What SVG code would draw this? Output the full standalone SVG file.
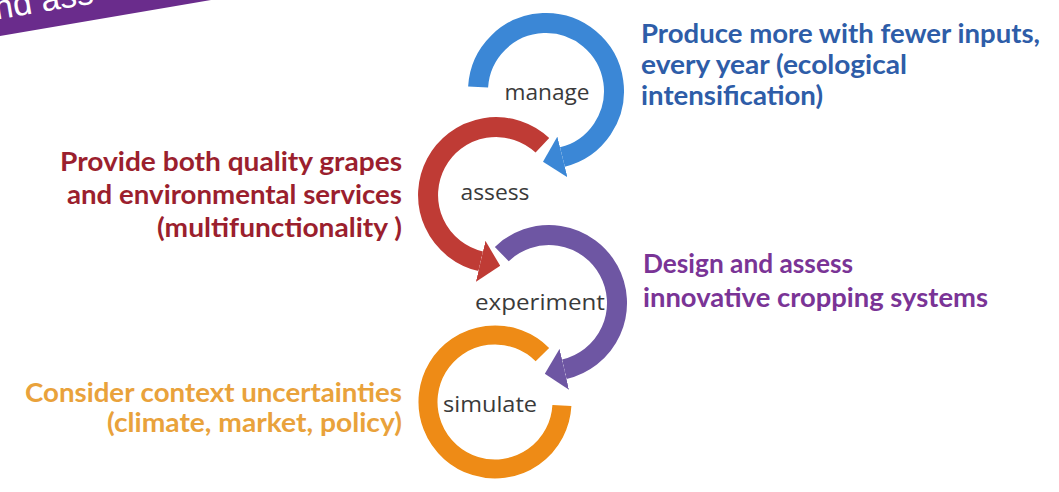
<svg xmlns="http://www.w3.org/2000/svg" width="1059" height="492" viewBox="0 0 1059 492">
  <style>
    .ring { fill: none; stroke-width: 20; stroke-linecap: butt; }
    .step { font-family: "Open Sans", "DejaVu Sans", sans-serif; font-size: 22px; fill: #3a3a3a; text-anchor: middle; }
    .goal { font-family: Lato, "Open Sans", sans-serif; font-weight: 700; font-size: 27px; }
    .blue { fill: #2E5DA8; }
    .red { fill: #9B1F2E; }
    .purple { fill: #7A3496; }
    .orange { fill: #E9A23B; }
    .end { text-anchor: end; }
  </style>
  <defs>
    <filter id="soft" x="-10%" y="-10%" width="120%" height="120%">
      <feGaussianBlur stdDeviation="0.7"/>
    </filter>
    <marker id="ah-blue" markerUnits="strokeWidth" markerWidth="1" markerHeight="2.1" viewBox="0 -1.05 1 2.1" refX="0" refY="0" orient="auto">
      <path d="M0,-1.05 L1,0 L0,1.05 Z" fill="#3A87D6"/>
    </marker>
    <marker id="ah-red" markerUnits="strokeWidth" markerWidth="1" markerHeight="2.1" viewBox="0 -1.05 1 2.1" refX="0" refY="0" orient="auto">
      <path d="M0,-1.05 L1,0 L0,1.05 Z" fill="#BF3A35"/>
    </marker>
    <marker id="ah-purple" markerUnits="strokeWidth" markerWidth="1" markerHeight="2.1" viewBox="0 -1.05 1 2.1" refX="0" refY="0" orient="auto">
      <path d="M0,-1.05 L1,0 L0,1.05 Z" fill="#6E56A3"/>
    </marker>
  </defs>

  <rect width="1059" height="492" fill="#ffffff"/>

  <!-- title banner fragment -->
  <g id="banner">
    <polygon points="0,0 211,0 0,36" fill="#6A2C8C"/>
    <text x="-4" y="19" transform="rotate(-9.5 0 19)" font-family="'Liberation Sans', sans-serif" font-size="34" fill="#ffffff">nd ass</text>
  </g>

  <!-- cycle arrows -->
  <g id="connectors" filter="url(#soft)">
    <path id="arc-manage" class="ring" stroke="#3A87D6" marker-end="url(#ah-blue)" d="M478.1,87 A68,68 0 1 1 562.4,157"/>
    <path id="arc-assess" class="ring" stroke="#BF3A35" marker-end="url(#ah-red)" d="M542.4,145.3 A68,68 0 1 0 480.7,261.3"/>
    <path id="arc-experiment" class="ring" stroke="#6E56A3" marker-end="url(#ah-purple)" d="M501.8,254.1 A68,68 0 1 1 564.3,369.3"/>
    <path id="arc-simulate" class="ring" stroke="#EE8B12" style="stroke-width:19" d="M542.4,354.6 A67,67 0 1 0 561.9,405.5"/>
  </g>

  <g id="node-manage">
    <text class="step" x="547" y="100" textLength="85" lengthAdjust="spacingAndGlyphs">manage</text>
  </g>
  <g id="node-assess">
    <text class="step" x="495" y="200" textLength="69" lengthAdjust="spacingAndGlyphs">assess</text>
  </g>
  <g id="node-experiment">
    <text class="step" x="540" y="310" textLength="130" lengthAdjust="spacingAndGlyphs">experiment</text>
  </g>
  <g id="node-simulate">
    <text class="step" x="490" y="412" textLength="94" lengthAdjust="spacingAndGlyphs">simulate</text>
  </g>

  <g id="goal-produce">
    <text class="goal blue" x="641" y="43" textLength="399" lengthAdjust="spacingAndGlyphs">Produce more with fewer inputs,</text>
    <text class="goal blue" x="641" y="74" textLength="266" lengthAdjust="spacingAndGlyphs">every year (ecological</text>
    <text class="goal blue" x="641" y="105" textLength="182" lengthAdjust="spacingAndGlyphs">intensification)</text>
  </g>
  <g id="goal-provide">
    <text class="goal red end" x="402" y="171" textLength="342" lengthAdjust="spacingAndGlyphs">Provide both quality grapes</text>
    <text class="goal red end" x="402" y="204" textLength="335" lengthAdjust="spacingAndGlyphs">and environmental services</text>
    <text class="goal red end" x="402" y="237" textLength="245" lengthAdjust="spacingAndGlyphs">(multifunctionality )</text>
  </g>
  <g id="goal-design">
    <text class="goal purple" x="643" y="273" textLength="210" lengthAdjust="spacingAndGlyphs">Design and assess</text>
    <text class="goal purple" x="643" y="307" textLength="345" lengthAdjust="spacingAndGlyphs">innovative cropping systems</text>
  </g>
  <g id="goal-consider">
    <text class="goal orange end" x="402" y="402" textLength="377" lengthAdjust="spacingAndGlyphs">Consider context uncertainties</text>
    <text class="goal orange end" x="402" y="432" textLength="295" lengthAdjust="spacingAndGlyphs">(climate, market, policy)</text>
  </g>
</svg>
